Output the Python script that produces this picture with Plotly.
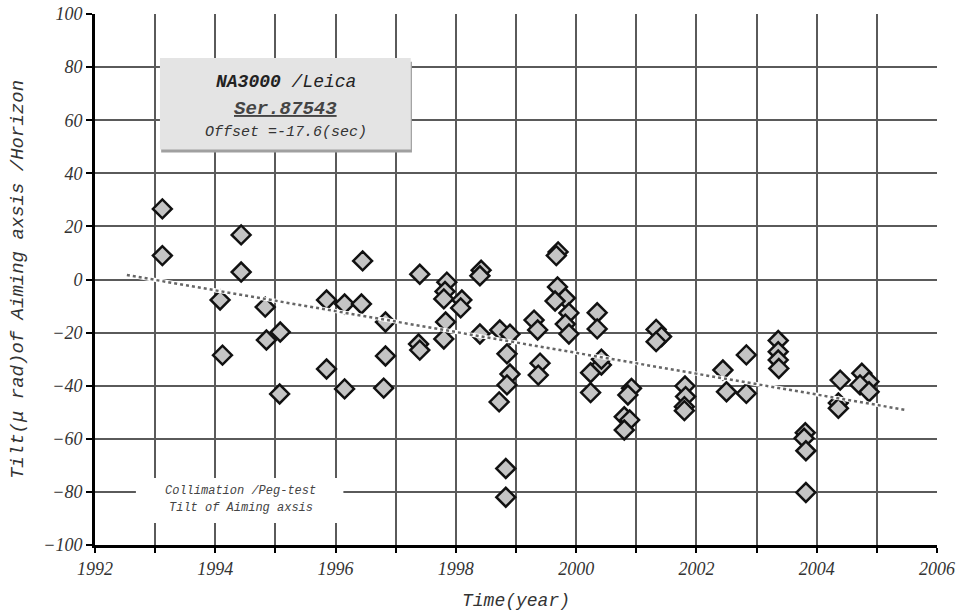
import plotly.graph_objects as go

# Measured tilt values (year, µrad)
years = [1993.12, 1993.12, 1994.08, 1994.12, 1994.43, 1994.43, 1994.83, 1994.85, 1995.08, 1995.07,
         1995.85, 1995.85, 1996.15, 1996.15, 1996.45, 1996.43, 1996.83, 1996.83, 1996.80,
         1997.40, 1997.38, 1997.40, 1997.85, 1997.82, 1997.80, 1997.83, 1997.80,
         1998.10, 1998.08, 1998.42, 1998.40, 1998.40, 1998.73, 1998.72, 1998.85, 1998.90,
         1998.85, 1998.90, 1998.83, 1998.83,
         1999.30, 1999.36, 1999.40, 1999.37, 1999.70, 1999.67, 1999.69, 1999.82, 1999.65,
         1999.88, 1999.82, 1999.88,
         2000.35, 2000.35, 2000.24, 2000.42, 2000.42, 2000.24, 2000.92, 2000.86, 2000.80,
         2000.89, 2000.80,
         2001.33, 2001.42, 2001.33, 2001.81, 2001.82, 2001.80, 2001.80,
         2002.44, 2002.50, 2002.83, 2002.83,
         2003.36, 2003.36, 2003.36, 2003.37, 2003.81, 2003.79, 2003.82, 2003.82,
         2004.39, 2004.36, 2004.36, 2004.75, 2004.87, 2004.72, 2004.87]
tilts = [26.6, 9.0, -7.7, -28.5, 16.8, 2.8, -10.4, -22.8, -19.8, -43.1,
         -7.7, -33.7, -9.2, -41.2, 7.0, -9.2, -16.0, -28.8, -40.9,
         2.0, -24.3, -26.6, -1.0, -4.5, -7.3, -16.0, -22.4,
         -7.7, -10.7, 3.5, 1.4, -20.5, -19.0, -46.1, -28.0, -35.6,
         -39.7, -20.6, -71.2, -82.0,
         -15.3, -19.0, -31.5, -36.0, 10.4, 9.0, -2.8, -7.0, -8.1,
         -12.6, -16.8, -20.5,
         -12.5, -18.6, -35.1, -32.2, -30.0, -42.6, -41.0, -43.5, -51.7,
         -52.9, -56.7,
         -18.8, -21.5, -23.4, -40.1, -44.1, -47.9, -49.4,
         -34.1, -42.3, -28.4, -42.9,
         -23.0, -27.2, -30.3, -33.5, -57.7, -59.8, -64.5, -80.2,
         -37.9, -46.5, -48.5, -35.3, -38.5, -39.7, -42.3]

# Linear trend endpoints
trend_x = [1992.53, 2005.47]
trend_y = [1.7, -49.1]

x_range = [1992, 2006]
y_range = [-100, 100]

GRID = "#5a5a5a"
TXT = "#333333"

fig = go.Figure()
fig.add_trace(go.Scatter(
    x=years, y=tilts, mode="markers",
    marker=dict(symbol="diamond", size=14.5, color="#c4c4c4",
                line=dict(color="#111111", width=2.5)),
    showlegend=False, hoverinfo="x+y"))
fig.add_trace(go.Scatter(
    x=trend_x, y=trend_y, mode="lines",
    line=dict(color="white", width=4), showlegend=False, hoverinfo="skip"))
fig.add_trace(go.Scatter(
    x=trend_x, y=trend_y, mode="lines",
    line=dict(color="#666666", width=2.5, dash="dot"), showlegend=False, hoverinfo="skip"))

# Title box with shadow
fig.add_shape(type="rect", xref="x", yref="y", x0=1993.10, x1=1997.27, y0=47.8, y1=82.0,
              fillcolor="#a0a0a0", line=dict(width=0), layer="above")
fig.add_shape(type="rect", xref="x", yref="y", x0=1993.08, x1=1997.25, y0=49.0, y1=83.4,
              fillcolor="#e4e4e4", line=dict(width=0), layer="above")
fig.add_annotation(x=1995.17, y=74.3, xref="x", yref="y", showarrow=False,
                   text="<b><i>NA3000</i></b><i> /Leica</i>",
                   font=dict(family="Liberation Mono", size=18, color="#222"))
fig.add_annotation(x=1995.17, y=64.3, xref="x", yref="y", showarrow=False,
                   text="<b><i><u>Ser.87543</u></i></b>",
                   font=dict(family="Liberation Mono", size=19, color="#444"))
fig.add_annotation(x=1995.17, y=55.3, xref="x", yref="y", showarrow=False,
                   text="<i>Offset =-17.6(sec)</i>",
                   font=dict(family="Liberation Mono", size=15, color="#333"))

# Legend box
fig.add_shape(type="rect", xref="x", yref="y", x0=1992.68, x1=1996.13, y0=-91.7, y1=-74.8,
              fillcolor="white", line=dict(width=0), layer="above")
fig.add_annotation(x=1994.42, y=-79.8, xref="x", yref="y", showarrow=False,
                   text="<i>Collimation /Peg-test</i>",
                   font=dict(family="Liberation Mono", size=12, color="#444"))
fig.add_annotation(x=1994.42, y=-86.2, xref="x", yref="y", showarrow=False,
                   text="<i>Tilt of Aiming axsis</i>",
                   font=dict(family="Liberation Mono", size=12, color="#444"))

# Axis titles as annotations (fixed placement)
fig.add_annotation(x=-0.092, y=0.5, xref="paper", yref="paper", showarrow=False,
                   textangle=-90, xanchor="center", yanchor="middle",
                   text="<i>Tilt(\u03bc rad)of Aiming axsis /Horizon</i>",
                   font=dict(family="Liberation Mono", size=19, color=TXT))
fig.add_annotation(x=0.5, y=-0.105, xref="paper", yref="paper", showarrow=False,
                   xanchor="center", yanchor="middle",
                   text="<i>Time(year)</i>",
                   font=dict(family="Liberation Mono", size=18, color=TXT))

fig.update_layout(
    width=959, height=614,
    margin=dict(l=95, r=22, t=14, b=69),
    paper_bgcolor="white", plot_bgcolor="white",
    xaxis=dict(range=x_range, dtick=2, tick0=1992, automargin=False,
               showgrid=True, gridcolor=GRID, gridwidth=1.6,
               minor=dict(dtick=1, showgrid=True, gridcolor=GRID, gridwidth=1.6,
                          ticks="outside", ticklen=5, tickwidth=2, tickcolor="black"),
               ticks="outside", ticklen=5, tickwidth=2, tickcolor="black",
               showline=True, linecolor="black", linewidth=3, zeroline=False,
               tickfont=dict(family="Liberation Serif", size=18, color=TXT, style="italic")),
    yaxis=dict(range=y_range, dtick=20, tick0=-100, automargin=False,
               showgrid=True, gridcolor=GRID, gridwidth=1.6,
               ticks="outside", ticklen=6, tickwidth=2, tickcolor="black",
               showline=True, linecolor="black", linewidth=3, zeroline=False,
               tickfont=dict(family="Liberation Serif", size=18, color=TXT, style="italic")),
)

fig.write_html("out.html")
